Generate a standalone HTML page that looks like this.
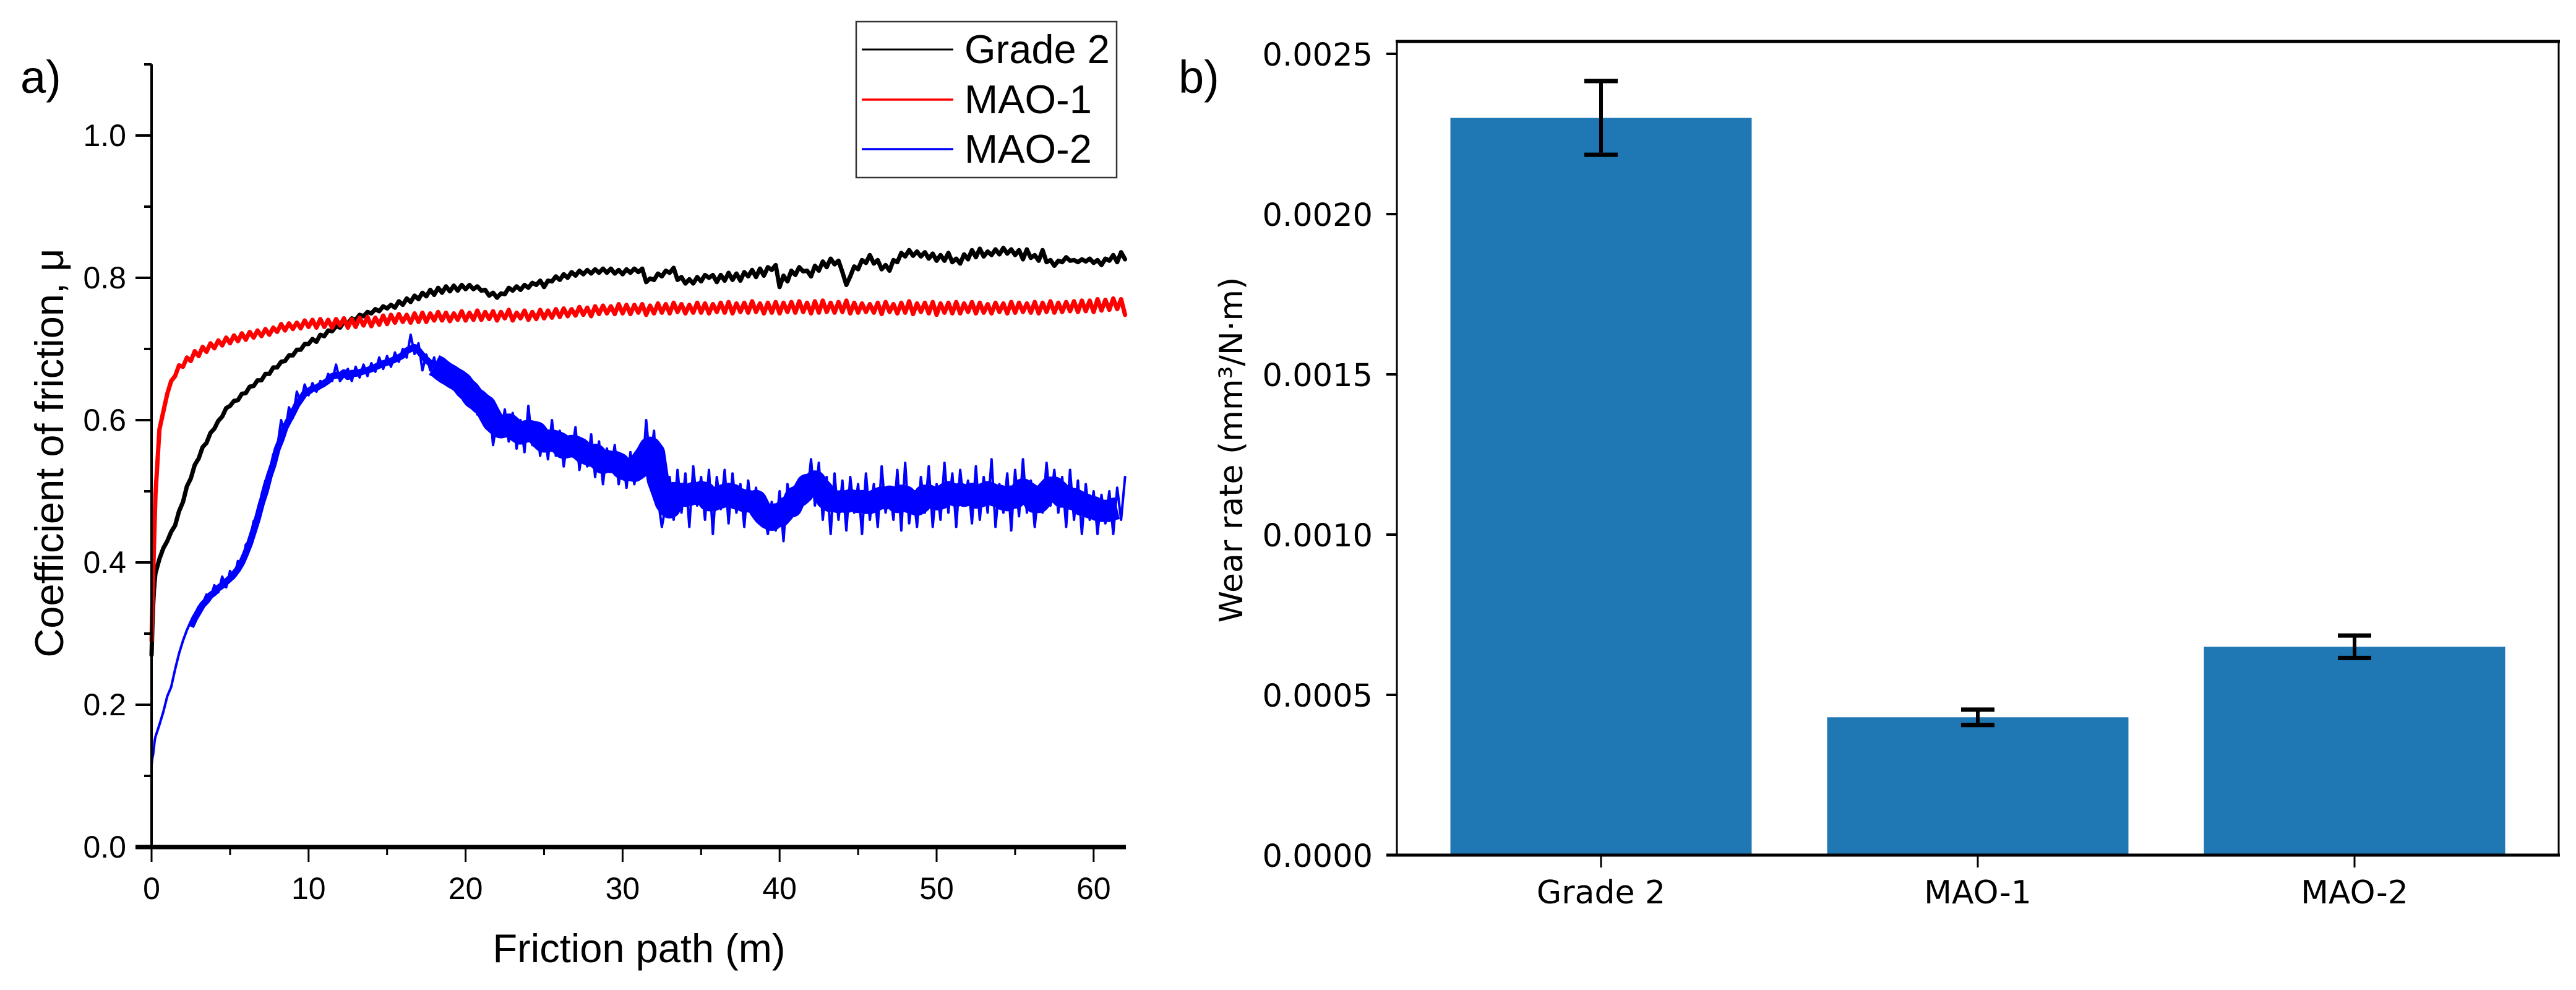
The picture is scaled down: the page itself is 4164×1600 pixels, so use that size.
<!DOCTYPE html>
<html>
<head>
<meta charset="utf-8">
<title>Friction and wear rate charts</title>
<style>
html,body{margin:0;padding:0;background:#fff;}
body{width:4164px;height:1600px;overflow:hidden;}
svg{display:block;}
.lib{font-family:"Liberation Sans",sans-serif;fill:#000;}
.dv{font-family:"DejaVu Sans",sans-serif;fill:#000;}
</style>
</head>
<body>
<svg id="figure" xmlns="http://www.w3.org/2000/svg" width="4164" height="1600" viewBox="0 0 4164 1600">
<rect x="0" y="0" width="4164" height="1600" fill="#fff"/>
<text class="lib" x="33" y="150" font-size="74">a)</text>
<text class="lib" x="1905" y="150" font-size="74">b)</text>
<g id="panelA"></g>
<g id="panelB"></g>
<g>
<rect x="1384" y="35" width="421" height="252" fill="#fff" stroke="#333" stroke-width="2.5"/>
<line x1="1393" y1="80" x2="1541" y2="80" stroke="#000" stroke-width="3"/>
<text class="lib" x="1559" y="102" font-size="65">Grade 2</text>
<line x1="1393" y1="161" x2="1541" y2="161" stroke="#f00" stroke-width="3.5"/>
<text class="lib" x="1559" y="183" font-size="65">MAO-1</text>
<line x1="1393" y1="241" x2="1541" y2="241" stroke="#00f" stroke-width="3.5"/>
<text class="lib" x="1559" y="263" font-size="65">MAO-2</text>
</g>
</svg>
<script>
// ---------- panel a data ----------
const frictionPath = [0,.05,.1,.15,.2,
.25,.5,.75,1,1.25,1.5,1.75,2,2.25,2.5,2.75,3,3.25,3.5,3.75,4,4.25,4.5,4.75,5,
5.25,5.5,5.75,6,6.25,6.5,6.75,7,7.25,7.5,7.75,8,8.25,8.5,8.75,9,9.25,9.5,9.75,10,
10.25,10.5,10.75,11,11.25,11.5,11.75,12,12.25,12.5,12.75,13,13.25,13.5,13.75,14,14.25,14.5,14.75,15,
15.25,15.5,15.75,16,16.25,16.5,16.75,17,17.25,17.5,17.75,18,18.25,18.5,18.75,19,19.25,19.5,19.75,20,
20.25,20.5,20.75,21,21.25,21.5,21.75,22,22.25,22.5,22.75,23,23.25,23.5,23.75,24,24.25,24.5,24.75,25,
25.25,25.5,25.75,26,26.25,26.5,26.75,27,27.25,27.5,27.75,28,28.25,28.5,28.75,29,29.25,29.5,29.75,30,
30.25,30.5,30.75,31,31.25,31.5,31.75,32,32.25,32.5,32.75,33,33.25,33.5,33.75,34,34.25,34.5,34.75,35,
35.25,35.5,35.75,36,36.25,36.5,36.75,37,37.25,37.5,37.75,38,38.25,38.5,38.75,39,39.25,39.5,39.75,40,
40.25,40.5,40.75,41,41.25,41.5,41.75,42,42.25,42.5,42.75,43,43.25,43.5,43.75,44,44.25,44.5,44.75,45,
45.25,45.5,45.75,46,46.25,46.5,46.75,47,47.25,47.5,47.75,48,48.25,48.5,48.75,49,49.25,49.5,49.75,50,
50.25,50.5,50.75,51,51.25,51.5,51.75,52,52.25,52.5,52.75,53,53.25,53.5,53.75,54,54.25,54.5,54.75,55,
55.25,55.5,55.75,56,56.25,56.5,56.75,57,57.25,57.5,57.75,58,58.25,58.5,58.75,59,59.25,59.5,59.75,60,
60.25,60.5,60.75,61,61.25,61.5,61.75,62];

const grade2Cof = [.27,.31,.34,.36,.375,
.385,.405,.42,.43,.443,.452,.472,.485,.507,.518,.537,.546,.562,.568,.582,.588,.599,.605,.617,.62,
.627,.628,.637,.638,.647,.648,.656,.656,.665,.665,.674,.674,.682,.683,.691,.691,.699,.699,.707,.707,
.714,.71,.72,.718,.726,.725,.732,.73,.738,.736,.743,.741,.748,.746,.752,.75,.756,.753,.76,.757,
.762,.758,.767,.762,.771,.766,.775,.77,.779,.774,.783,.776,.786,.779,.788,.781,.789,.782,.79,.784,
.79,.784,.788,.782,.783,.775,.779,.772,.778,.777,.786,.782,.788,.783,.79,.786,.793,.79,.796,.787,
.796,.795,.802,.797,.805,.8,.808,.803,.81,.805,.811,.806,.812,.807,.813,.807,.813,.806,.811,.805,
.812,.807,.813,.808,.813,.794,.799,.797,.806,.802,.81,.807,.814,.797,.801,.792,.798,.792,.801,.795,
.804,.8,.804,.794,.804,.796,.807,.797,.806,.796,.808,.802,.811,.801,.813,.803,.815,.811,.818,.787,
.803,.795,.81,.804,.815,.809,.81,.802,.817,.81,.823,.815,.827,.819,.824,.808,.79,.802,.816,.812,
.825,.821,.832,.82,.825,.812,.818,.81,.825,.822,.835,.83,.839,.831,.837,.83,.836,.827,.834,.824,
.832,.824,.835,.822,.827,.82,.833,.826,.839,.829,.841,.83,.837,.832,.84,.833,.842,.834,.84,.832,
.839,.826,.84,.828,.832,.824,.839,.822,.825,.817,.824,.822,.829,.824,.825,.822,.826,.823,.827,.821,
.825,.818,.827,.824,.832,.822,.836,.826];

const mao1Cof = [.29,.34,.38,.42,.46,
.495,.587,.612,.637,.655,.662,.677,.675,.688,.683,.697,.69,.703,.696,.708,.701,.712,.705,.716,.708,
.719,.711,.722,.713,.724,.716,.726,.718,.728,.72,.73,.724,.735,.726,.736,.728,.737,.729,.74,.731,
.741,.73,.742,.731,.741,.73,.742,.733,.743,.73,.742,.731,.744,.733,.745,.732,.744,.734,.747,.735,
.748,.737,.749,.738,.748,.737,.75,.738,.751,.738,.75,.74,.752,.74,.751,.739,.75,.741,.753,.74,
.751,.741,.754,.741,.752,.742,.753,.74,.752,.743,.755,.74,.751,.743,.754,.741,.752,.742,.755,.743,
.754,.744,.756,.745,.757,.746,.756,.747,.759,.748,.758,.746,.76,.749,.761,.75,.76,.749,.763,.75,
.762,.749,.762,.751,.763,.748,.761,.75,.764,.751,.763,.75,.765,.752,.763,.75,.762,.751,.765,.751,
.764,.75,.763,.752,.765,.751,.766,.75,.764,.752,.765,.751,.767,.752,.764,.75,.765,.751,.766,.75,
.765,.752,.766,.751,.767,.752,.765,.75,.767,.751,.768,.752,.765,.751,.766,.752,.768,.75,.765,.751,
.764,.752,.763,.751,.765,.749,.766,.752,.763,.75,.765,.751,.767,.749,.764,.752,.765,.75,.766,.748,
.764,.751,.765,.75,.766,.75,.764,.752,.766,.75,.765,.751,.763,.75,.765,.752,.764,.75,.766,.751,
.765,.752,.764,.751,.766,.75,.765,.752,.767,.751,.765,.752,.766,.753,.767,.752,.768,.753,.768,.752,
.77,.754,.769,.755,.771,.756,.77,.748];

const mao2Cof = [.115,.125,.13,.14,.15,
.155,.172,.19,.212,.225,.25,.272,.29,.305,.317,.327,.338,.342,.355,.35,.368,.358,.38,.365,.388,
.378,.402,.395,.425,.43,.458,.465,.495,.515,.525,.552,.56,.6,.58,.618,.603,.64,.625,.65,.635,
.652,.64,.655,.648,.665,.655,.678,.655,.662,.672,.655,.675,.66,.678,.662,.68,.668,.688,.672,.69,
.675,.695,.682,.7,.688,.72,.693,.708,.67,.692,.67,.688,.66,.68,.652,.672,.648,.665,.64,.655,
.62,.645,.608,.64,.6,.63,.565,.6,.58,.615,.57,.61,.56,.6,.555,.62,.565,.595,.55,.59,
.545,.6,.55,.585,.535,.575,.555,.59,.53,.565,.535,.58,.52,.57,.51,.56,.53,.565,.51,.55,
.505,.555,.51,.545,.52,.6,.54,.585,.49,.45,.48,.52,.46,.53,.47,.525,.45,.535,.48,.52,
.46,.53,.44,.52,.475,.53,.455,.525,.47,.51,.45,.515,.47,.505,.455,.47,.44,.485,.445,.5,
.43,.51,.47,.505,.48,.52,.49,.545,.48,.54,.46,.52,.44,.525,.46,.515,.445,.52,.47,.51,
.44,.525,.46,.51,.45,.535,.47,.505,.46,.53,.445,.54,.455,.5,.45,.52,.47,.535,.45,.51,
.46,.54,.47,.525,.45,.53,.48,.515,.455,.535,.46,.52,.47,.545,.45,.51,.47,.525,.445,.53,
.465,.545,.47,.515,.45,.505,.47,.54,.48,.53,.47,.52,.45,.53,.46,.515,.44,.51,.46,.5,
.44,.495,.455,.5,.44,.505,.46,.52];

const xMajorTicks = [0,10,20,30,40,50,60];
const xMinorTicks = [5,15,25,35,45,55];
const yMajorTicks = [0,0.2,0.4,0.6,0.8,1.0];
const yMinorTicks = [0.1,0.3,0.5,0.7,0.9,1.1];

// ---------- panel b data ----------
const wearCategories = ['Grade 2','MAO-1','MAO-2'];
const wearRates = [0.0023,0.00043,0.00065];
const wearErrors = [0.000115,0.000024,0.000035];
const wearTicks = ['0.0000','0.0005','0.0010','0.0015','0.0020','0.0025'];

const SVGNS = 'http://www.w3.org/2000/svg';
function mk(parent, tag, attrs, text){
  const el = document.createElementNS(SVGNS, tag);
  for (const k in attrs) el.setAttribute(k, attrs[k]);
  if (text !== undefined) el.textContent = text;
  parent.appendChild(el);
  
  return el;
}

// ---------- panel a ----------
const A = document.getElementById('panelA');
const ax = m => 245 + m * 25.38;
const ay = v => 1369 - v * 1150;

function drawSeries(name, xs, ys, color, width){
  const n = Math.min(xs.length, ys.length);
  const pts = [];
  for (let i = 0; i < n; i++) pts.push(ax(xs[i]).toFixed(1) + ',' + ay(ys[i]).toFixed(1));
  const p = mk(A, 'polyline', {points: pts.join(' '), fill: 'none', stroke: color, 'stroke-width': width, 'stroke-linejoin': 'round', 'stroke-linecap': 'round'});
  
}
// dense core of the noisy MAO-2 trace: running mean of the same readings
function drawMeanBand(name, xs, ys, fromPath, toPath, color, width){
  const n = Math.min(xs.length, ys.length);
  const pts = [];
  for (let i = 2; i < n - 2; i++) {
    if (xs[i] < fromPath || xs[i] > toPath) continue;
    const mean = (ys[i-2] + ys[i-1] + ys[i] + ys[i+1]) / 4;
    pts.push(ax(xs[i]).toFixed(1) + ',' + ay(mean).toFixed(1));
  }
  const p = mk(A, 'polyline', {points: pts.join(' '), fill: 'none', stroke: color, 'stroke-width': width, 'stroke-linejoin': 'round', 'stroke-linecap': 'butt'});
  
}
drawMeanBand('series-mao-2-early-core', frictionPath, mao2Cof, 2.5, 18, '#00f', 11);
drawMeanBand('series-mao-2-core', frictionPath, mao2Cof, 18, 62, '#00f', 36);
drawSeries('series-mao-2', frictionPath, mao2Cof, '#00f', 4);
drawSeries('series-grade-2', frictionPath, grade2Cof, '#000', 7);
drawSeries('series-mao-1', frictionPath, mao1Cof, '#f00', 7);

const aYAxis = mk(A, 'line', {x1: 245, y1: ay(1.1), x2: 245, y2: ay(0), stroke: '#000', 'stroke-width': 4});

const aXAxis = mk(A, 'line', {x1: 219, y1: ay(0), x2: 1820, y2: ay(0), stroke: '#000', 'stroke-width': 7});


yMajorTicks.forEach(v => {
  const t = mk(A, 'line', {x1: 219, y1: ay(v), x2: 245, y2: ay(v), stroke: '#000', 'stroke-width': 4});
  
  const l = mk(A, 'text', {x: 204, y: ay(v) + 17, 'text-anchor': 'end', 'font-size': 50, class: 'lib'}, v.toFixed(1));
  
});
yMinorTicks.forEach(v => {
  const t = mk(A, 'line', {x1: 233, y1: ay(v), x2: 245, y2: ay(v), stroke: '#000', 'stroke-width': 4});
  
});
xMajorTicks.forEach(m => {
  const t = mk(A, 'line', {x1: ax(m), y1: ay(0), x2: ax(m), y2: 1393, stroke: '#000', 'stroke-width': 3});
  
  const l = mk(A, 'text', {x: ax(m), y: 1453, 'text-anchor': 'middle', 'font-size': 50, class: 'lib'}, String(m));
  
});
xMinorTicks.forEach(m => {
  const t = mk(A, 'line', {x1: ax(m), y1: ay(0), x2: ax(m), y2: 1382, stroke: '#000', 'stroke-width': 3});
  
});
const aXTitle = mk(A, 'text', {x: 1033, y: 1555, 'text-anchor': 'middle', 'font-size': 65, class: 'lib'}, 'Friction path (m)');

const aYTitle = mk(A, 'text', {x: 0, y: 0, transform: 'translate(102 732) rotate(-90)', 'text-anchor': 'middle', 'font-size': 65, class: 'lib'}, 'Coefficient of friction, \u03bc');


// ---------- panel b ----------
const B = document.getElementById('panelB');
const bx = i => 2588 + i * 609;
const by = v => 1382 - v * 518000;
const barWidth = 487;

wearCategories.forEach((c, i) => {
  const bar = mk(B, 'rect', {x: bx(i) - barWidth / 2, y: by(wearRates[i]), width: barWidth, height: by(0) - by(wearRates[i]), fill: '#1f77b4'});
  
});
wearCategories.forEach((c, i) => {
  const hi = by(wearRates[i] + wearErrors[i]);
  const lo = by(wearRates[i] - wearErrors[i]);
  const stem = mk(B, 'line', {x1: bx(i), y1: hi, x2: bx(i), y2: lo, stroke: '#000', 'stroke-width': 6});
  
  const capT = mk(B, 'line', {x1: bx(i) - 27, y1: hi, x2: bx(i) + 27, y2: hi, stroke: '#000', 'stroke-width': 7});
  
  const capB = mk(B, 'line', {x1: bx(i) - 27, y1: lo, x2: bx(i) + 27, y2: lo, stroke: '#000', 'stroke-width': 7});
  
  const t = mk(B, 'line', {x1: bx(i), y1: 1382, x2: bx(i), y2: 1402, stroke: '#000', 'stroke-width': 3});
  
  const l = mk(B, 'text', {x: bx(i), y: 1460, 'text-anchor': 'middle', 'font-size': 52, class: 'dv'}, c);
  
});
wearTicks.forEach(s => {
  const v = parseFloat(s);
  const t = mk(B, 'line', {x1: 2241, y1: by(v), x2: 2258, y2: by(v), stroke: '#000', 'stroke-width': 4});
  
  const l = mk(B, 'text', {x: 2219, y: by(v) + 19, 'text-anchor': 'end', 'font-size': 51, class: 'dv'}, s);
  
});
const fT = mk(B, 'line', {x1: 2256, y1: 67, x2: 4138, y2: 67, stroke: '#000', 'stroke-width': 5});

const fB = mk(B, 'line', {x1: 2241, y1: 1382, x2: 4138, y2: 1382, stroke: '#000', 'stroke-width': 5});

const fL = mk(B, 'line', {x1: 2258, y1: 67, x2: 2258, y2: 1382, stroke: '#000', 'stroke-width': 3});

const fR = mk(B, 'line', {x1: 4136, y1: 67, x2: 4136, y2: 1382, stroke: '#000', 'stroke-width': 3});

const bYTitle = mk(B, 'text', {x: 0, y: 0, transform: 'translate(2008 727) rotate(-90)', 'text-anchor': 'middle', 'font-size': 52, class: 'dv'}, 'Wear rate (mm\u00b3/N\u00b7m)');

</script>
</body>
</html>
